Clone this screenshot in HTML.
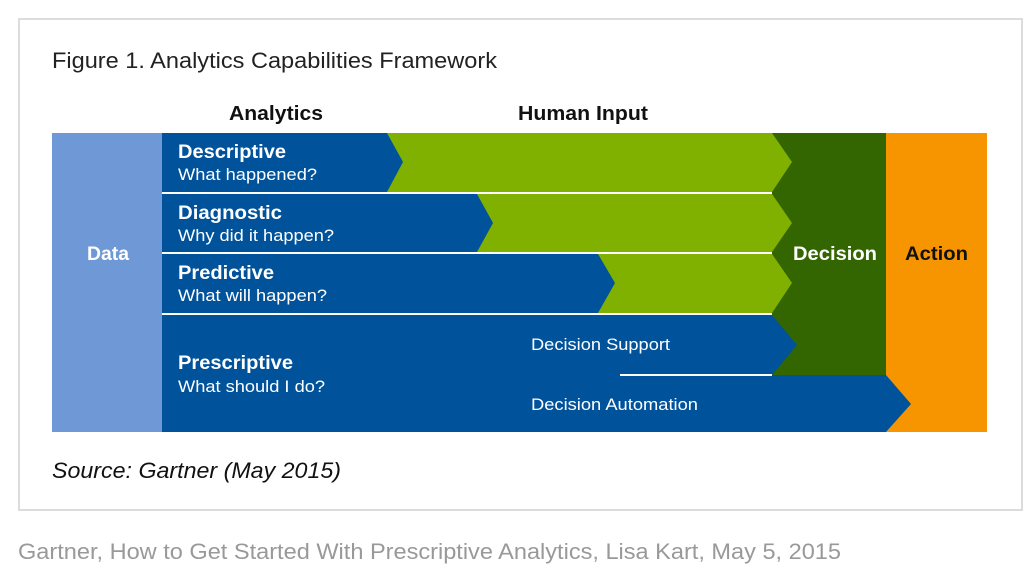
<!DOCTYPE html>
<html><head><meta charset="utf-8"><style>
body{margin:0;background:#fff;width:1036px;height:582px;overflow:hidden;font-family:"Liberation Sans",sans-serif}
</style></head><body>
<svg width="1036" height="582" xmlns="http://www.w3.org/2000/svg" font-family="Liberation Sans, sans-serif">
<rect x="19" y="19" width="1003" height="491" fill="#fff" stroke="#dcdcdc" stroke-width="2"/>
<text x="52" y="68" font-size="22" fill="#222" textLength="445" lengthAdjust="spacingAndGlyphs">Figure 1. Analytics Capabilities Framework</text>
<text x="229" y="120" font-size="20" font-weight="bold" fill="#111" textLength="94" lengthAdjust="spacingAndGlyphs">Analytics</text>
<text x="518" y="120" font-size="20" font-weight="bold" fill="#111" textLength="130" lengthAdjust="spacingAndGlyphs">Human Input</text>
<rect x="52" y="133" width="110" height="299" fill="#6f99d6"/>
<text x="87" y="260" font-size="19" font-weight="bold" fill="#fff" textLength="42" lengthAdjust="spacingAndGlyphs">Data</text>
<rect x="886" y="133" width="101" height="299" fill="#f79500"/>
<text x="905" y="260" font-size="19" font-weight="bold" fill="#111" textLength="63" lengthAdjust="spacingAndGlyphs">Action</text>
<rect x="772" y="133" width="114" height="242" fill="#336600"/>
<text x="793" y="260" font-size="19" font-weight="bold" fill="#fff" textLength="84" lengthAdjust="spacingAndGlyphs">Decision</text>
<rect x="162" y="133" width="610" height="299" fill="#00529b"/>
<polygon points="772,315 797,345 772,375" fill="#00529b"/>
<polygon points="772,375 886,375 911,404 886,432 772,432" fill="#00529b"/>
<polygon points="387,133 772,133 792,162 772,192 387,192 403,162" fill="#80b000"/>
<polygon points="477,194 772,194 792,223 772,252 477,252 493,223" fill="#80b000"/>
<polygon points="598,254 772,254 792,283 772,313 598,313 615,283" fill="#80b000"/>
<rect x="162" y="192" width="610" height="2" fill="#fff"/>
<rect x="162" y="252" width="610" height="2" fill="#fff"/>
<rect x="162" y="313" width="610" height="2" fill="#fff"/>
<rect x="620" y="374" width="152" height="2" fill="#fff"/>
<g fill="#fff">
<text x="178" y="158" font-size="19" font-weight="bold" textLength="108" lengthAdjust="spacingAndGlyphs">Descriptive</text>
<text x="178" y="180" font-size="17" textLength="139" lengthAdjust="spacingAndGlyphs">What happened?</text>
<text x="178" y="219" font-size="19" font-weight="bold" textLength="104" lengthAdjust="spacingAndGlyphs">Diagnostic</text>
<text x="178" y="241" font-size="17" textLength="156" lengthAdjust="spacingAndGlyphs">Why did it happen?</text>
<text x="178" y="279" font-size="19" font-weight="bold" textLength="96" lengthAdjust="spacingAndGlyphs">Predictive</text>
<text x="178" y="301" font-size="17" textLength="149" lengthAdjust="spacingAndGlyphs">What will happen?</text>
<text x="178" y="369" font-size="19" font-weight="bold" textLength="115" lengthAdjust="spacingAndGlyphs">Prescriptive</text>
<text x="178" y="392" font-size="17" textLength="147" lengthAdjust="spacingAndGlyphs">What should I do?</text>
<text x="531" y="350" font-size="17" textLength="139" lengthAdjust="spacingAndGlyphs">Decision Support</text>
<text x="531" y="410" font-size="17" textLength="167" lengthAdjust="spacingAndGlyphs">Decision Automation</text>
</g>
<text x="52" y="478" font-size="22" font-style="italic" fill="#111" textLength="289" lengthAdjust="spacingAndGlyphs">Source: Gartner (May 2015)</text>
<text x="18" y="559" font-size="22" fill="#999" textLength="823" lengthAdjust="spacingAndGlyphs">Gartner, How to Get Started With Prescriptive Analytics, Lisa Kart, May 5, 2015</text>
</svg>
</body></html>
